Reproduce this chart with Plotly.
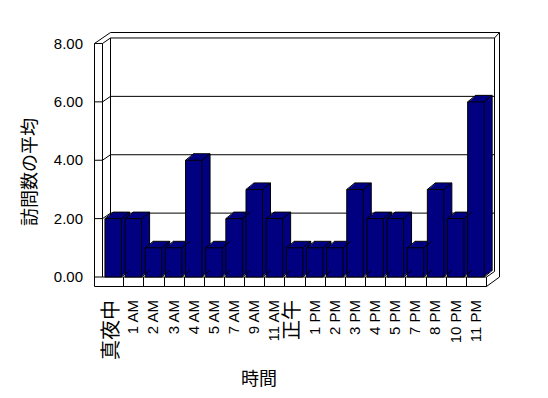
import plotly.graph_objects as go

# ---- data ----
categories = ["真夜中", "1 AM", "2 AM", "3 AM", "4 AM", "5 AM", "7 AM", "9 AM", "11 AM",
              "正午", "1 PM", "2 PM", "3 PM", "4 PM", "5 PM", "7 PM", "8 PM", "10 PM", "11 PM"]
visits_avg = [2, 2, 1, 1, 4, 1, 2, 3, 2, 1, 1, 1, 3, 2, 2, 1, 3, 2, 6]
y_ticks = [0, 2, 4, 6, 8]
y_tick_labels = ["0.00", "2.00", "4.00", "6.00", "8.00"]
x_title = "時間"
y_title = "訪問数の平均"

# ---- geometry (page pixels; the page body has an 8px margin) ----
OFF = 8
W, H = 548, 398
L, R, T, B = 90, 505, 30, 290
X0, XS = 113.2, 20.15      # px of category 0 centre, px per category
Y0, YS = 277.0, 29.19      # px of value 0, px per unit
BW = 16.5                  # front face width px
DX, DY = 8.0, 6.5          # bar depth px
NAVY = "#000080"


def dx(px):
    return (px - X0) / XS


def dy(py):
    return (Y0 - py) / YS


xr = [dx(L), dx(R)]
yr = [dy(B), dy(T)]
n = len(categories)
xs = list(range(n))

fig = go.Figure()

# depth layers of the pseudo-3D bars (back to front)
steps = 8
for k in range(steps, -1, -1):
    sx = DX * k / steps
    sy = DY * k / steps
    outlined = (k == steps or k == 0)
    fig.add_trace(go.Bar(
        x=xs, y=visits_avg,
        width=BW / XS,
        offset=(-BW / 2 + sx) / XS,
        base=sy / YS,
        marker=dict(color=NAVY,
                    line=dict(color="black", width=1 if outlined else 0)),
        hoverinfo="skip", showlegend=False,
    ))

# diagonal edges of bars
ex, ey = [], []
hw = BW / 2 / XS
ddx, ddy = DX / XS, DY / YS
for i, v in zip(xs, visits_avg):
    for (px_, py_) in [(i - hw, v), (i + hw, v), (i + hw, 0)]:
        ex += [px_, px_ + ddx, None]
        ey += [py_, py_ + ddy, None]
fig.add_trace(go.Scatter(x=ex, y=ey, mode="lines",
                         line=dict(color="black", width=1),
                         hoverinfo="skip", showlegend=False))

# ---- frame (walls, floor, gridlines) ----
shapes = []


def seg(x1, y1, x2, y2):
    shapes.append(dict(type="line", xref="x", yref="y",
                       x0=dx(x1), y0=dy(y1), x1=dx(x2), y1=dy(y2),
                       line=dict(color="black", width=1), layer="below"))


WX0, WX1 = 94.5, 102.5      # left wall front face
BX0, BX1 = 110.5, 494.5     # back wall inner left / right
OXR = 499.5                 # outer right
TOP_OUT = 32.5
FLOOR_B = 286.5
FLOOR_R = 486.5
WDY = 5.5

top_front = Y0 - YS * max(y_ticks)
seg(WX0, top_front, WX0, FLOOR_B)
seg(WX1, top_front, WX1, Y0)
for v in y_ticks:
    yy = Y0 - YS * v
    seg(WX0, yy, WX1, yy)
    if v > 0:
        seg(WX1, yy, BX0, yy - WDY)
        seg(BX0, yy - WDY, BX1, yy - WDY)
seg(WX0, top_front, BX0, TOP_OUT)
seg(BX0, TOP_OUT, OXR, TOP_OUT)
seg(BX0, top_front - WDY, BX0, Y0 - WDY)
seg(BX1, top_front - WDY, BX1, Y0 - WDY)
seg(BX1, top_front - WDY, OXR, TOP_OUT)
seg(OXR, TOP_OUT, OXR, Y0)
# floor
seg(WX1, Y0, FLOOR_R, Y0)
seg(WX0, FLOOR_B, FLOOR_R, FLOOR_B)
seg(FLOOR_R, Y0, FLOOR_R, FLOOR_B)
seg(FLOOR_R, Y0, BX1, Y0 - WDY)
seg(FLOOR_R, FLOOR_B, OXR, Y0)
for k in range(n - 1):
    xx = round(X0 + XS * (k + 0.5)) + 0.5
    seg(xx, Y0, xx, FLOOR_B)


def tick_text(c):
    if any(ord(ch) > 127 for ch in c):
        return f"<span style='font-size:20px'>{c}</span>"
    return c


fig.update_layout(
    width=W - OFF, height=H - OFF,
    margin=dict(l=L - OFF, r=W - R, t=T - OFF, b=H - B, pad=0),
    paper_bgcolor="white", plot_bgcolor="white",
    barmode="overlay",
    shapes=shapes,
    font=dict(family="Liberation Sans, Noto Sans CJK JP", color="black"),
    xaxis=dict(range=xr, tickmode="array", tickvals=xs,
               ticktext=[tick_text(c) for c in categories],
               tickangle=-90, ticks="", showgrid=False, zeroline=False,
               showline=False, ticklabelstandoff=6,
               tickfont=dict(size=15, family="Liberation Sans, Noto Sans CJK JP")),
    yaxis=dict(range=yr, tickmode="array", tickvals=y_ticks, ticktext=y_tick_labels,
               ticks="", showgrid=False, zeroline=False, showline=False,
               ticklabelstandoff=6,
               tickfont=dict(size=15, family="Liberation Sans")),
    annotations=[
        dict(text=x_title, xref="paper", yref="paper",
             x=(258.5 - L) / (R - L), y=(B - 377) / (B - T),
             xanchor="center", yanchor="middle", showarrow=False,
             font=dict(size=18, family="Noto Sans CJK JP")),
        dict(text=y_title, xref="paper", yref="paper",
             x=(28 - L) / (R - L), y=(B - 172) / (B - T),
             xanchor="center", yanchor="middle", showarrow=False, textangle=-90,
             font=dict(size=18, family="Noto Sans CJK JP")),
    ],
)

fig.write_html("out.html")
